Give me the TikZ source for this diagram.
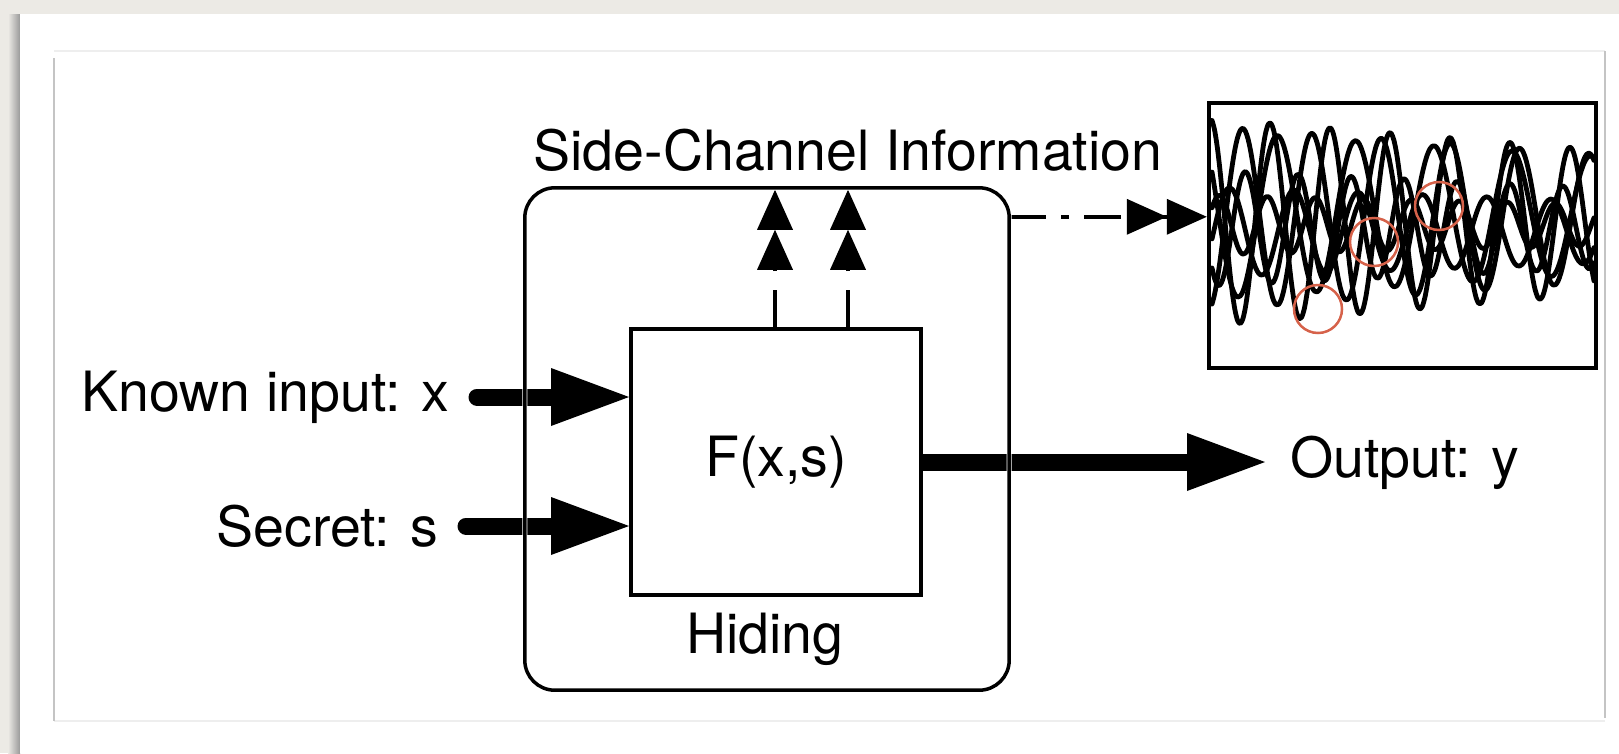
\documentclass[tikz,border=0pt]{standalone}
\usepackage{fontspec}
\setmainfont{TeX Gyre Heros}
\usetikzlibrary{arrows.meta,positioning}
\definecolor{paper}{RGB}{236,234,229}
\definecolor{panelside}{RGB}{196,196,196}
\definecolor{paneltop}{RGB}{238,238,238}
\definecolor{markred}{RGB}{214,98,74}
\tikzset{
  %define style for text labels
  lbl/.style={
    inner sep=0pt,
    font=\fontsize{55.5}{60}\selectfont},
  %define style for boxes
  funbox/.style={
    rectangle,
    draw=black, line width=4pt,
    minimum width=290pt,
    minimum height=266pt,
    inner sep=0pt,
    font=\fontsize{55.5}{60}\selectfont},
  hidebox/.style={
    rectangle,
    minimum width=484pt,
    minimum height=502pt},
  hideline/.style={
    draw=black, line width=3.5pt,
    rounded corners=30pt,
    preaction={draw=white, line width=5pt}},
  tracebox/.style={
    rectangle,
    draw=black, line width=4.5pt,
    minimum width=387pt,
    minimum height=265pt},
  trace/.style={
    line width=4.8pt,
    line join=round, line cap=round},
  %define style for arrows
  bigarrow/.style={
    -{Triangle[length=78pt,width=58pt,line width=0pt]},
    line width=17pt},
  leakarrow/.style={
    -{Triangle[length=40pt,width=36pt,line width=0pt,sep=0pt]Triangle[length=40pt,width=36pt,line width=0pt,sep=0pt]},
    line width=3.5pt}
}

\begin{document}
\begin{tikzpicture}[x=1pt, y=-1pt]
\useasboundingbox (0,0) rectangle (1619,753);
%page and panel
\fill[paper] (0,0) rectangle (1619,753);
\shade[left color=paper, right color=black!40] (8,14) rectangle (20,753);
\fill[white] (20,14) rectangle (1619,753);
\draw[paneltop, line width=1.5pt] (54,51) -- (1605,51);
\draw[paneltop, line width=1.5pt] (54,721) -- (1605,721);
\draw[panelside, line width=2pt] (54,58) -- (54,721);
\draw[panelside, line width=2pt] (1605,51) -- (1605,718);

%nodes
\node[hidebox] (hide) at (767,439) {};
\node[funbox] (fun) at (776,462) {F(x,s)};
\node[lbl, anchor=base] (hidlbl) at (765,653) {Hiding};
\node[lbl, anchor=base] (sci) at (848,170) {Side-Channel Information};
\node[lbl, anchor=east] (kin) at (449,397) {Known input: x};
\node[lbl, anchor=east] (sec) at (438,526) {Secret: s};
\node[lbl, anchor=west] (out) at (1290,463) {Output: y};
\node[tracebox] (trc) at (1402.5,235.5) {};
\coordinate (leakout) at ([yshift=-29pt]hide.north east);

%arrows
\draw[bigarrow, line cap=round, shorten <=28pt] (kin.east) -- (kin.east -| fun.west);
\draw[bigarrow, line cap=round, shorten <=28pt] (sec.east) -- (sec.east -| fun.west);
\draw[bigarrow, shorten >=25pt] (fun.east) -- (fun.east -| out.west);
\draw[leakarrow, dash pattern=on 37pt off 19pt, shorten >=2pt]
  ([xshift=-1pt]fun.north) -- ([xshift=-1pt]fun.north |- hide.north);
\draw[leakarrow, dash pattern=on 37pt off 19pt, shorten >=2pt]
  ([xshift=72pt]fun.north) -- ([xshift=72pt]fun.north |- hide.north);
\draw[leakarrow, dash pattern=on 37pt off 15pt on 8pt off 15pt]
  (leakout) -- (leakout -| trc.west);
\draw[hideline] (hide.north west) rectangle (hide.south east);

%traces
\begin{scope}
\clip ([xshift=3pt,yshift=-3pt]trc.north west) rectangle ([xshift=-3pt,yshift=3pt]trc.south east);
\foreach \ta/\tf/\tp/\tc in {104/6.0/270/222, 92/5.2/100/218, 58/6.8/30/228,
  30/7.5/200/225, 84/4.6/320/215, 45/5.6/160/232}
  \draw[trace] plot[domain=1212:1594, samples=150, smooth]
    (\x, {\tc+\ta*(1-0.3*(\x-1210)/385)*sin(\tf*(\x-1210)+\tp)});
\end{scope}
\foreach \mx/\my in {1318/309, 1374/242, 1439/206}
  \draw[markred, line width=2.5pt] (\mx,\my) circle[radius=24pt];
\end{tikzpicture}
\end{document}
